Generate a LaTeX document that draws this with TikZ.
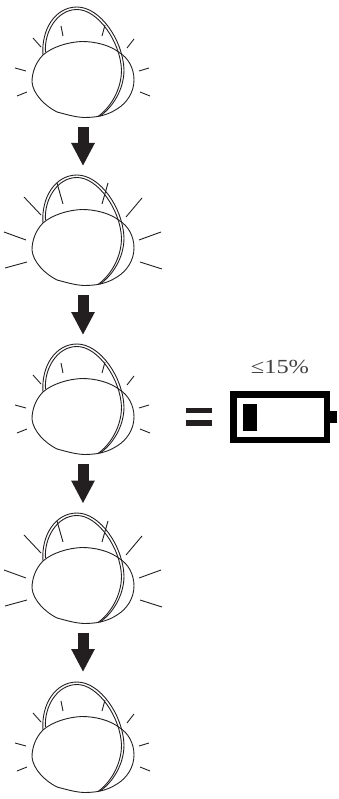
\documentclass[tikz,border=0pt]{standalone}
\usepackage{fontspec}
\usepackage{graphicx}
\setmainfont{Liberation Serif}
\usetikzlibrary{arrows.meta}
\definecolor{lampline}{RGB}{35,31,32}
\tikzset{
  lampstroke/.style={draw=lampline, line width=0.9pt},
  blockarrow/.style={draw=lampline, line width=11pt, -{Triangle[width=22pt,length=23pt]}},
  lampframe/.style={minimum width=100pt, minimum height=129pt, inner sep=0pt, outer sep=0pt},
  lampglass/.pic={
    % Back of the glass
    \draw[lampstroke] (120,53) .. controls (128,58) and (134,68) .. (134,80) .. controls (134,92) and (127,103) .. (117,109) .. controls (111,113) and (105,115) .. (100,116);
    % Dome
    \draw[lampstroke] (43,55) .. controls (41,30) and (55,7) .. (77,7) .. controls (100,7) and (123,40) .. (124,70) .. controls (124,90) and (112,108) .. (100,116);
    \draw[lampstroke] (45.5,52) .. controls (44,32) and (57,9.5) .. (77,9.5) .. controls (98,9.5) and (120.5,42) .. (121.5,70) .. controls (121.5,90) and (110,108) .. (98,116.5);
    % Front of the glass
    \draw[lampstroke] (120,53) .. controls (110,45) and (95,41.5) .. (82,41.5) .. controls (68,42) and (52,47) .. (43,55) .. controls (36,62) and (32,72) .. (32,82) .. controls (33,94) and (45,106) .. (57,112) .. controls (65,114) and (74,117) .. (84,117.5) .. controls (90,117.5) and (96,117) .. (100,116);
  },
  lampshort/.pic={
    \pic {lampglass};
    \draw[lampstroke] (33,38)--(41,47);
    \draw[lampstroke] (61,26)--(63,36);
    \draw[lampstroke] (105,25)--(102,36);
    \draw[lampstroke] (134,39)--(127,48);
    \draw[lampstroke] (15,68)--(26,71);
    \draw[lampstroke] (17,96)--(27,92);
    \draw[lampstroke] (149,68)--(139,71);
    \draw[lampstroke] (150,96)--(140,92);
  },
  lamplong/.pic={
    \pic {lampglass};
    \draw[lampstroke] (24,29)--(41,47);
    \draw[lampstroke] (57,15)--(63,36);
    \draw[lampstroke] (108,15)--(102,36);
    \draw[lampstroke] (142,30)--(126,49);
    \draw[lampstroke] (4,64)--(26,72);
    \draw[lampstroke] (5,100)--(27,94);
    \draw[lampstroke] (161,64)--(139,72);
    \draw[lampstroke] (162,101)--(140,94);
  },
}
\begin{document}
\begin{tikzpicture}[x=1pt, y=-1pt]
\useasboundingbox (0,0) rectangle (338,799);
% Lamps
\pic at (0,0) {lampshort};
\pic at (0,168) {lamplong};
\pic at (0,337) {lampshort};
\pic at (0,506) {lamplong};
\pic at (0,675) {lampshort};
% Frames for the arrows
\node[lampframe] (lampa) at (83,62.5) {};
\node[lampframe] (lampb) at (83,230.5) {};
\node[lampframe] (lampc) at (83,399.5) {};
\node[lampframe] (lampd) at (83,568) {};
\node[lampframe] (lampe) at (83,736.5) {};
% Arrows
\draw[blockarrow] (lampa.south)--(lampb.north);
\draw[blockarrow] (lampb.south)--(lampc.north);
\draw[blockarrow] (lampc.south)--(lampd.north);
\draw[blockarrow] (lampd.south)--(lampe.north);
% Equals sign
\node[fill=lampline, minimum width=26pt, minimum height=5.5pt, inner sep=0pt] (eqtop) at (199,410.5) {};
\node[fill=lampline, minimum width=26pt, minimum height=6pt, inner sep=0pt] (eqbot) at (199,423) {};
% Battery
\node[draw=black, line width=6.5pt, minimum width=93.5pt, minimum height=45.5pt, inner sep=0pt] (cell) at (280,417) {};
\node[fill=black, minimum width=7pt, minimum height=12pt, inner sep=0pt, anchor=west] (tip) at (330,417) {};
\node[fill=black, minimum width=14pt, minimum height=27pt, inner sep=0pt] (charge) at (250,417.5) {};
\node[font=\fontsize{20}{22}\selectfont, text=lampline!85, inner sep=0pt] (level) at (280,367) {\scalebox{1.22}[1]{≤15\%}};
\end{tikzpicture}
\end{document}
